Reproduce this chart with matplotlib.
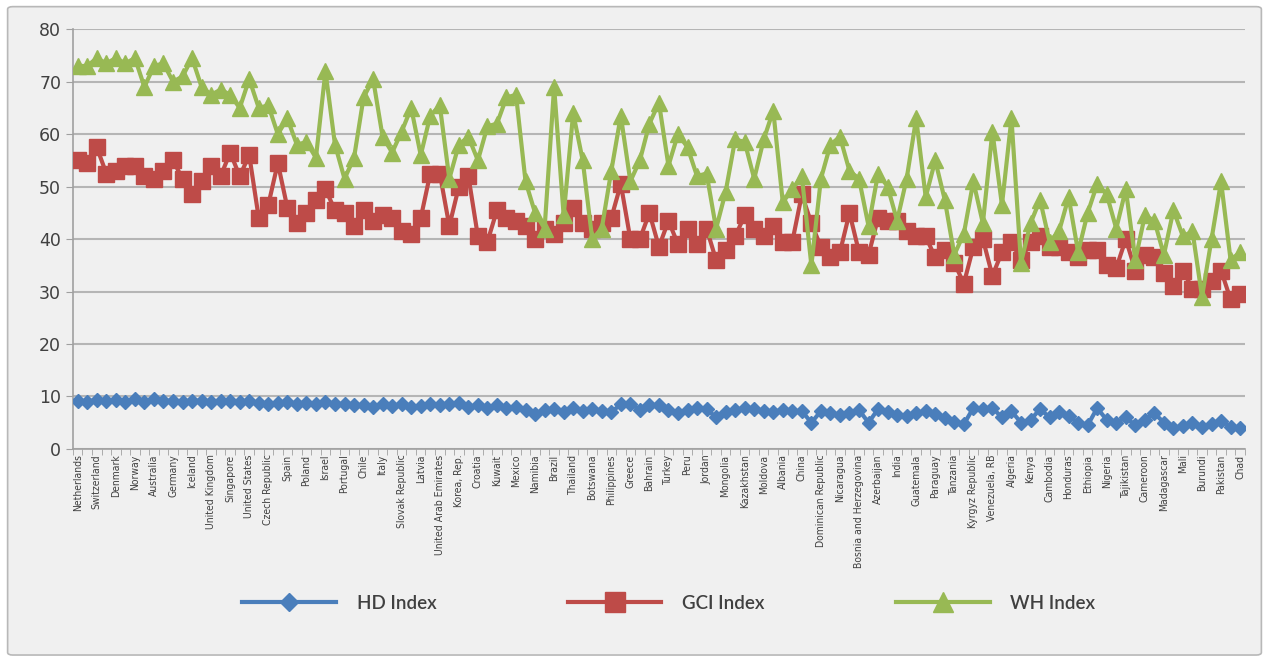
import numpy as np
import matplotlib
matplotlib.use("Agg")
import matplotlib.pyplot as plt
from matplotlib.patches import FancyBboxPatch

# Country labels (only every second category is labelled on the axis)
labels = [
    "Netherlands", "Switzerland", "Denmark", "Norway", "Australia", "Germany",
    "Iceland", "United Kingdom", "Singapore", "United States", "Czech Republic",
    "Spain", "Poland", "Israel", "Portugal", "Chile", "Italy", "Slovak Republic",
    "Latvia", "United Arab Emirates", "Korea, Rep.", "Croatia", "Kuwait", "Mexico",
    "Namibia", "Brazil", "Thailand", "Botswana", "Philippines", "Greece", "Bahrain",
    "Turkey", "Peru", "Jordan", "Mongolia", "Kazakhstan", "Moldova", "Albania",
    "China", "Dominican Republic", "Nicaragua", "Bosnia and Herzegovina",
    "Azerbaijan", "India", "Guatemala", "Paraguay", "Tanzania", "Kyrgyz Republic",
    "Venezuela, RB", "Algeria", "Kenya", "Cambodia", "Honduras", "Ethiopia",
    "Nigeria", "Tajikistan", "Cameroon", "Madagascar", "Mali", "Burundi",
    "Pakistan", "Chad",
]

hd_index = [
    9.2, 9.0, 9.3, 9.1, 9.3, 8.9, 9.6, 9.0, 9.5, 9.1,
    9.2, 9.0, 9.1, 9.2, 9.0, 9.1, 9.2, 8.9, 9.1, 8.7,
    8.5, 8.8, 8.9, 8.6, 8.8, 8.5, 9.0, 8.5, 8.6, 8.3,
    8.4, 8.0, 8.6, 8.1, 8.5, 8.0, 8.2, 8.5, 8.4, 8.6,
    8.8, 8.0, 8.3, 7.8, 8.4, 7.7, 7.9, 7.5, 6.6, 7.4,
    7.6, 7.0, 7.8, 7.2, 7.6, 7.2, 7.0, 8.5, 8.6, 7.5,
    8.3, 8.4, 7.4, 6.8, 7.5, 7.7, 7.6, 6.0, 7.0, 7.4,
    7.8, 7.6, 7.2, 7.1, 7.4, 7.2, 7.2, 5.0, 7.2, 6.8,
    6.5, 6.8, 7.4, 5.0, 7.6, 7.0, 6.5, 6.3, 6.8, 7.2,
    6.6, 5.9, 5.2, 4.7, 7.8, 7.6, 7.8, 6.0, 7.2, 5.0,
    5.5, 7.6, 6.0, 7.0, 6.2, 5.0, 4.5, 7.8, 5.5, 5.0,
    6.0, 4.5, 5.6, 6.8, 5.0, 4.0, 4.3, 5.0, 4.2, 4.8,
    5.4, 4.2, 4.0,
]

gci_index = [
    55.0, 54.5, 57.5, 52.5, 53.0, 54.0, 54.0, 52.0, 51.5, 53.0,
    55.0, 51.5, 48.5, 51.0, 54.0, 52.0, 56.5, 52.0, 56.0, 44.0,
    46.5, 54.5, 46.0, 43.0, 45.0, 47.5, 49.5, 45.5, 45.0, 42.5,
    45.5, 43.5, 44.5, 44.0, 41.5, 41.0, 44.0, 52.5, 52.5, 42.5,
    50.0, 52.0, 40.5, 39.5, 45.5, 44.0, 43.5, 42.5, 40.0, 42.0,
    41.0, 43.0, 46.0, 43.0, 42.0, 43.0, 44.0, 50.5, 40.0, 40.0,
    45.0, 38.5, 43.5, 39.0, 42.0, 39.0, 42.0, 36.0, 38.0, 40.5,
    44.5, 42.0, 40.5, 42.5, 39.5, 39.5, 48.5, 43.0, 38.5, 36.5,
    37.5, 45.0, 37.5, 37.0, 44.0, 43.5, 43.5, 41.5, 40.5, 40.5,
    36.5, 38.0, 35.5, 31.5, 38.5, 40.0, 33.0, 37.5, 39.5, 36.0,
    39.5, 40.5, 38.5, 38.5, 37.5, 36.5, 38.0, 38.0, 35.0, 34.5,
    40.0, 34.0, 37.0, 36.5, 33.5, 31.0, 34.0, 30.5, 30.5, 32.0,
    34.0, 28.5, 29.5,
]

wh_index = [
    73.0, 73.0, 74.5, 73.5, 74.5, 73.5, 74.5, 69.0, 73.0, 73.5,
    70.0, 71.0, 74.5, 69.0, 67.5, 68.5, 67.5, 65.0, 70.5, 65.0,
    65.5, 60.0, 63.0, 58.0, 58.5, 55.5, 72.0, 58.0, 51.5, 55.5,
    67.0, 70.5, 59.5, 56.5, 60.5, 65.0, 56.0, 63.5, 65.5, 51.5,
    58.0, 59.5, 55.0, 61.5, 62.0, 67.0, 67.5, 51.0, 45.0, 42.0,
    69.0, 44.5, 64.0, 55.0, 40.0, 42.0, 53.0, 63.5, 51.0, 55.0,
    62.0, 66.0, 54.0, 60.0, 57.5, 52.0, 52.5, 42.0, 49.0, 59.0,
    58.5, 51.5, 59.0, 64.5, 47.0, 49.5, 52.0, 35.0, 51.5, 58.0,
    59.5, 53.0, 51.5, 42.5, 52.5, 50.0, 43.5, 51.5, 63.0, 48.0,
    55.0, 47.5, 37.0, 41.0, 51.0, 43.0, 60.5, 46.5, 63.0, 35.5,
    43.0, 47.5, 39.5, 41.5, 48.0, 37.5, 45.0, 50.5, 48.5, 42.0,
    49.5, 36.0, 44.5, 43.5, 37.0, 45.5, 40.5, 41.5, 29.0, 40.0,
    51.0, 36.0, 37.5,
]

x = np.arange(len(wh_index))

fig = plt.figure(figsize=(12.69, 6.65), dpi=100)
fig.patch.set_facecolor("white")

# Chart area frame (behind everything)
frame = FancyBboxPatch((0.006, 0.015), 0.988, 0.975, boxstyle="round,pad=0,rounding_size=0.004",
                       transform=fig.transFigure, facecolor="#f0f0f0", edgecolor="#b8b8b8",
                       linewidth=1.2, zorder=-10)
fig.patches.append(frame)

ax = fig.add_axes([0.0575, 0.325, 0.9235, 0.631])
ax.set_zorder(1)
ax.set_facecolor("#f0f0f0")

ax.plot(x, hd_index, color="#4a7ebb", linewidth=3, marker="D", markersize=7, label="HD Index", zorder=3)
ax.plot(x, gci_index, color="#be4b48", linewidth=3, marker="s", markersize=11, label="GCI Index", zorder=4)
ax.plot(x, wh_index, color="#98b954", linewidth=3, marker="^", markersize=11, label="WH Index", zorder=5)

ax.set_xlim(-0.5, len(x) - 0.5)
ax.set_ylim(0, 80)
ax.set_yticks(range(0, 81, 10))
ax.grid(axis="y", color="#b5b5b5", linewidth=1.5)
ax.set_axisbelow(True)

for side in ["top", "right"]:
    ax.spines[side].set_visible(False)
ax.spines["left"].set_color("#a0a0a0")
ax.spines["bottom"].set_color("#a0a0a0")
ax.spines["left"].set_linewidth(1.2)
ax.spines["bottom"].set_linewidth(1.2)

ax.tick_params(axis="y", labelsize=12.5, colors="#404040", length=5, color="#a0a0a0")
ax.set_xticks(x[::2])
ax.set_xticklabels(labels, rotation=90, fontsize=7.5, color="#404040", fontstretch="condensed")
ax.set_xticks(np.arange(-0.5, len(x), 1), minor=True)
ax.tick_params(axis="x", which="major", length=0, pad=4)
ax.tick_params(axis="x", which="minor", length=4, color="#a0a0a0")

leg = fig.legend(loc="center", bbox_to_anchor=(0.527, 0.093), ncol=3, frameon=False,
                 prop={"family": "Lato", "size": 13.5, "weight": "semibold"},
                 handlelength=5.0, handletextpad=1.1, columnspacing=7.0,
                 labelcolor="#404040", markerscale=1.3)

plt.savefig("out.png", dpi=100)
